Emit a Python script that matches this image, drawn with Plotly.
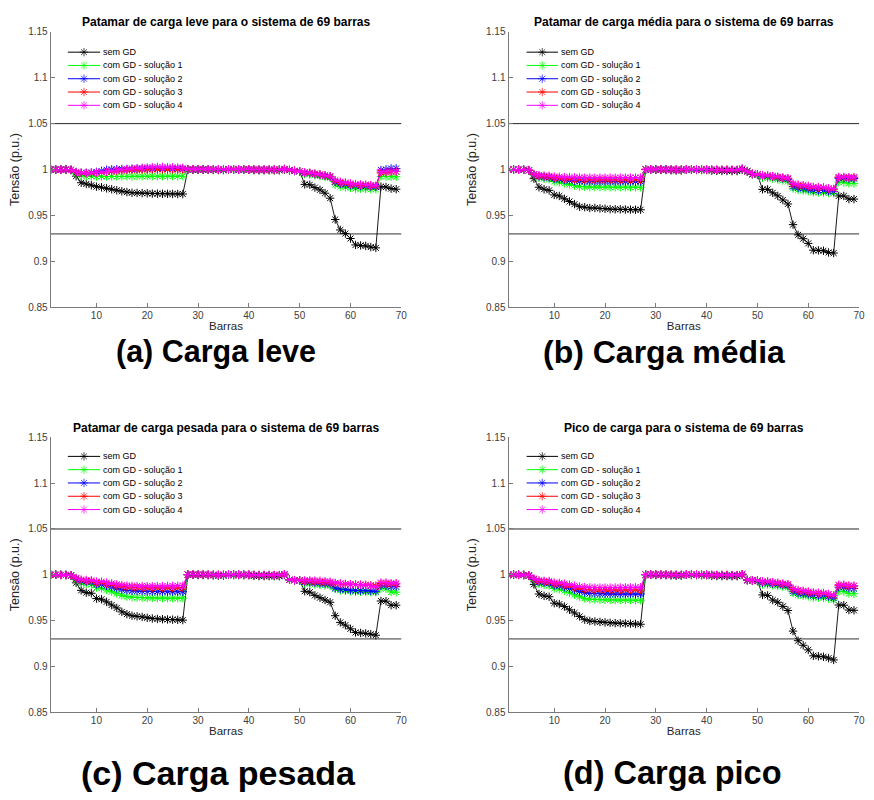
import plotly.graph_objects as go

# ---------------- data ----------------
bus = list(range(1, 70))

series_names = ["sem GD", "com GD - solução 1", "com GD - solução 2",
                "com GD - solução 3", "com GD - solução 4"]
series_colors = ["#000000", "#00ff00", "#0000ff", "#ff0000", "#ff00ff"]

titles = ["Patamar de carga leve para o sistema de 69 barras",
          "Patamar de carga média para o sistema de 69 barras",
          "Patamar de carga pesada para o sistema de 69 barras",
          "Pico de carga para o sistema de 69 barras"]
captions = ["(a) Carga leve", "(b) Carga média", "(c) Carga pesada", "(d) Carga pico"]

limits = [1.05, 0.93]
y_ticks = [0.85, 0.9, 0.95, 1.0, 1.05, 1.1, 1.15]
y_tick_labels = ["0.85", "0.9", "0.95", "1", "1.05", "1.1", "1.15"]
x_ticks = [10, 20, 30, 40, 50, 60, 70]
x_range = [1, 70]
y_range = [0.85, 1.15]

leve_sem = [
    1.0000, 1.0000, 0.9999, 0.9999, 0.9995, 0.9928, 0.9857, 0.9843, 0.9830, 0.9814,
    0.9807, 0.9796, 0.9786, 0.9775, 0.9764, 0.9755, 0.9748, 0.9746, 0.9744, 0.9742,
    0.9739, 0.9738, 0.9737, 0.9736, 0.9735, 0.9734, 0.9734,
    0.9999, 0.9999, 0.9998, 0.9998, 0.9998, 0.9996, 0.9995, 0.9995,
    1.0000, 0.9999, 0.9998, 0.9998, 0.9998, 0.9994, 0.9993, 0.9993, 0.9993, 0.9992, 0.9992,
    0.9999, 0.9993, 0.9985, 0.9980,
    0.9839, 0.9835, 0.9804, 0.9779, 0.9743, 0.9689, 0.9457, 0.9343, 0.9304, 0.9250,
    0.9180, 0.9175, 0.9170, 0.9157, 0.9148, 0.9814, 0.9810, 0.9793, 0.9786]
leve_sol1 = [
    1.0000, 1.0000, 1.0000, 0.9999, 0.9996, 0.9955, 0.9935, 0.9928, 0.9926, 0.9925,
    0.9925, 0.9925, 0.9925, 0.9925, 0.9926, 0.9926, 0.9927, 0.9927, 0.9927, 0.9928,
    0.9928, 0.9928, 0.9928, 0.9928, 0.9928, 0.9928, 0.9928,
    1.0000, 1.0000, 0.9999, 0.9999, 0.9999, 0.9998, 0.9997, 0.9997,
    1.0000, 1.0000, 0.9999, 0.9999, 0.9999, 0.9997, 0.9996, 0.9996, 0.9996, 0.9996, 0.9996,
    1.0003, 0.9995, 0.9985, 0.9980,
    0.9950, 0.9948, 0.9938, 0.9930, 0.9920, 0.9910, 0.9835, 0.9815, 0.9808, 0.9800,
    0.9792, 0.9791, 0.9790, 0.9787, 0.9785, 0.9925, 0.9925, 0.9922, 0.9922]
leve_sol2 = [
    1.0000, 1.0000, 1.0000, 1.0000, 0.9997, 0.9972, 0.9965, 0.9965, 0.9968, 0.9975,
    0.9985, 0.9998, 1.0002, 1.0004, 1.0006, 1.0007, 1.0008, 1.0009, 1.0010, 1.0010,
    1.0010, 1.0010, 1.0010, 1.0010, 1.0009, 1.0009, 1.0009,
    1.0002, 1.0002, 1.0001, 1.0001, 1.0001, 1.0000, 0.9999, 0.9999,
    1.0002, 1.0002, 1.0001, 1.0001, 1.0001, 0.9999, 0.9998, 0.9998, 0.9998, 0.9998, 0.9998,
    1.0005, 0.9995, 0.9985, 0.9982,
    0.9962, 0.9960, 0.9950, 0.9942, 0.9932, 0.9922, 0.9865, 0.9845, 0.9838, 0.9830,
    0.9822, 0.9820, 0.9818, 0.9815, 0.9812, 0.9995, 1.0002, 1.0012, 1.0012]
leve_sol3 = [
    1.0000, 1.0000, 1.0000, 1.0000, 0.9997, 0.9972, 0.9963, 0.9962, 0.9963, 0.9966,
    0.9970, 0.9975, 0.9980, 0.9985, 0.9990, 0.9993, 0.9996, 0.9998, 1.0000, 1.0001,
    1.0002, 1.0002, 1.0002, 1.0002, 1.0002, 1.0001, 1.0001,
    1.0003, 1.0003, 1.0002, 1.0002, 1.0002, 1.0001, 1.0000, 1.0000,
    1.0003, 1.0003, 1.0002, 1.0002, 1.0002, 1.0000, 0.9999, 0.9999, 0.9999, 0.9999, 0.9999,
    1.0006, 0.9996, 0.9986, 0.9982,
    0.9966, 0.9963, 0.9954, 0.9946, 0.9936, 0.9926, 0.9875, 0.9858, 0.9850, 0.9842,
    0.9833, 0.9831, 0.9829, 0.9825, 0.9820, 0.9965, 0.9970, 0.9978, 0.9980]
leve_sol4 = [
    1.0000, 1.0000, 1.0000, 1.0000, 0.9998, 0.9975, 0.9965, 0.9963, 0.9964, 0.9968,
    0.9972, 0.9978, 0.9985, 0.9992, 0.9998, 1.0004, 1.0010, 1.0015, 1.0020, 1.0024,
    1.0027, 1.0029, 1.0029, 1.0027, 1.0025, 1.0022, 1.0020,
    1.0005, 1.0005, 1.0004, 1.0004, 1.0004, 1.0003, 1.0002, 1.0002,
    1.0004, 1.0004, 1.0003, 1.0003, 1.0003, 1.0002, 1.0001, 1.0001, 1.0001, 1.0001, 1.0001,
    1.0008, 0.9997, 0.9987, 0.9982,
    0.9970, 0.9966, 0.9957, 0.9948, 0.9938, 0.9928, 0.9885, 0.9868, 0.9860, 0.9851,
    0.9842, 0.9840, 0.9837, 0.9832, 0.9825, 0.9975, 0.9978, 0.9980, 0.9980]

media_sem = [
    1.0000, 1.0000, 0.9999, 0.9998, 0.9990, 0.9901, 0.9808, 0.9786, 0.9774, 0.9724,
    0.9713, 0.9682, 0.9653, 0.9624, 0.9596, 0.9591, 0.9582, 0.9582, 0.9577, 0.9574,
    0.9569, 0.9568, 0.9568, 0.9566, 0.9564, 0.9563, 0.9563,
    0.9999, 0.9999, 0.9997, 0.9997, 0.9996, 0.9993, 0.9990, 0.9990,
    0.9999, 0.9997, 0.9996, 0.9995, 0.9995, 0.9988, 0.9986, 0.9985, 0.9985, 0.9984, 0.9984,
    0.9998, 0.9985, 0.9947, 0.9942,
    0.9785, 0.9785, 0.9747, 0.9714, 0.9669, 0.9626, 0.9401, 0.9290, 0.9248, 0.9197,
    0.9123, 0.9121, 0.9117, 0.9098, 0.9092, 0.9713, 0.9713, 0.9679, 0.9679]
media_sol1 = [
    1.0000, 1.0000, 0.9999, 0.9998, 0.9992, 0.9940, 0.9912, 0.9902, 0.9895, 0.9870,
    0.9862, 0.9850, 0.9838, 0.9826, 0.9815, 0.9812, 0.9810, 0.9810, 0.9809, 0.9808,
    0.9808, 0.9808, 0.9808, 0.9808, 0.9808, 0.9808, 0.9808,
    1.0001, 1.0001, 1.0000, 1.0000, 0.9999, 0.9998, 0.9997, 0.9997,
    1.0001, 1.0000, 0.9999, 0.9999, 0.9999, 0.9996, 0.9995, 0.9995, 0.9995, 0.9994, 0.9994,
    1.0006, 0.9978, 0.9953, 0.9946,
    0.9912, 0.9910, 0.9900, 0.9892, 0.9882, 0.9872, 0.9795, 0.9780, 0.9772, 0.9765,
    0.9752, 0.9751, 0.9750, 0.9745, 0.9742, 0.9862, 0.9862, 0.9850, 0.9850]
media_sol2 = [
    1.0000, 1.0000, 0.9999, 0.9998, 0.9993, 0.9945, 0.9925, 0.9918, 0.9913, 0.9900,
    0.9895, 0.9888, 0.9882, 0.9877, 0.9873, 0.9872, 0.9871, 0.9871, 0.9870, 0.9870,
    0.9870, 0.9870, 0.9870, 0.9870, 0.9870, 0.9870, 0.9870,
    1.0002, 1.0002, 1.0001, 1.0001, 1.0000, 0.9999, 0.9998, 0.9998,
    1.0002, 1.0001, 1.0000, 1.0000, 1.0000, 0.9997, 0.9996, 0.9996, 0.9996, 0.9995, 0.9995,
    1.0007, 0.9979, 0.9954, 0.9947,
    0.9930, 0.9928, 0.9920, 0.9912, 0.9903, 0.9895, 0.9815, 0.9800, 0.9795, 0.9788,
    0.9775, 0.9774, 0.9772, 0.9765, 0.9760, 0.9905, 0.9905, 0.9902, 0.9902]
media_sol3 = [
    1.0000, 1.0000, 0.9999, 0.9998, 0.9994, 0.9948, 0.9932, 0.9926, 0.9922, 0.9910,
    0.9906, 0.9900, 0.9896, 0.9893, 0.9891, 0.9890, 0.9890, 0.9889, 0.9889, 0.9889,
    0.9889, 0.9889, 0.9889, 0.9889, 0.9889, 0.9889, 0.9889,
    1.0003, 1.0003, 1.0002, 1.0002, 1.0001, 1.0000, 0.9999, 0.9999,
    1.0003, 1.0002, 1.0001, 1.0001, 1.0001, 0.9998, 0.9997, 0.9997, 0.9997, 0.9996, 0.9996,
    1.0008, 0.9980, 0.9955, 0.9948,
    0.9935, 0.9933, 0.9925, 0.9918, 0.9910, 0.9902, 0.9840, 0.9828, 0.9822, 0.9815,
    0.9805, 0.9803, 0.9800, 0.9792, 0.9786, 0.9915, 0.9915, 0.9912, 0.9912]
media_sol4 = [
    1.0000, 1.0000, 0.9999, 0.9998, 0.9995, 0.9952, 0.9940, 0.9935, 0.9932, 0.9925,
    0.9922, 0.9919, 0.9917, 0.9915, 0.9914, 0.9913, 0.9913, 0.9912, 0.9912, 0.9912,
    0.9912, 0.9912, 0.9913, 0.9913, 0.9913, 0.9914, 0.9914,
    1.0004, 1.0004, 1.0003, 1.0003, 1.0002, 1.0001, 1.0000, 1.0000,
    1.0004, 1.0003, 1.0002, 1.0002, 1.0002, 0.9999, 0.9998, 0.9998, 0.9998, 0.9997, 0.9997,
    1.0009, 0.9981, 0.9956, 0.9949,
    0.9940, 0.9938, 0.9930, 0.9923, 0.9915, 0.9907, 0.9848, 0.9836, 0.9830, 0.9823,
    0.9812, 0.9810, 0.9807, 0.9798, 0.9790, 0.9920, 0.9920, 0.9918, 0.9918]

pesada_sem = [
    1.0000, 1.0000, 0.9999, 0.9998, 0.9990, 0.9912, 0.9830, 0.9805, 0.9798, 0.9740,
    0.9733, 0.9704, 0.9670, 0.9638, 0.9595, 0.9570, 0.9553, 0.9546, 0.9540, 0.9530,
    0.9522, 0.9518, 0.9515, 0.9512, 0.9510, 0.9508, 0.9505,
    0.9999, 0.9999, 0.9997, 0.9997, 0.9996, 0.9993, 0.9990, 0.9990,
    0.9999, 0.9997, 0.9996, 0.9995, 0.9995, 0.9988, 0.9986, 0.9985, 0.9985, 0.9984, 0.9984,
    0.9998, 0.9945, 0.9940, 0.9938,
    0.9820, 0.9810, 0.9775, 0.9750, 0.9724, 0.9700, 0.9553, 0.9480, 0.9450, 0.9410,
    0.9370, 0.9365, 0.9360, 0.9352, 0.9340, 0.9714, 0.9712, 0.9668, 0.9668]
pesada_sol1 = [
    1.0000, 1.0000, 0.9999, 0.9998, 0.9993, 0.9945, 0.9910, 0.9900, 0.9893, 0.9860,
    0.9853, 0.9835, 0.9815, 0.9795, 0.9775, 0.9762, 0.9755, 0.9752, 0.9750, 0.9748,
    0.9747, 0.9746, 0.9746, 0.9745, 0.9745, 0.9745, 0.9745,
    1.0001, 1.0001, 1.0000, 1.0000, 0.9999, 0.9998, 0.9997, 0.9997,
    1.0001, 1.0000, 0.9999, 0.9999, 0.9999, 0.9996, 0.9995, 0.9995, 0.9995, 0.9994, 0.9994,
    1.0004, 0.9945, 0.9940, 0.9938,
    0.9905, 0.9902, 0.9895, 0.9890, 0.9885, 0.9880, 0.9845, 0.9830, 0.9825, 0.9820,
    0.9815, 0.9814, 0.9813, 0.9811, 0.9808, 0.9850, 0.9848, 0.9812, 0.9810]
pesada_sol2 = [
    1.0000, 1.0000, 0.9999, 0.9998, 0.9994, 0.9955, 0.9930, 0.9925, 0.9920, 0.9897,
    0.9893, 0.9880, 0.9866, 0.9853, 0.9838, 0.9830, 0.9825, 0.9822, 0.9820, 0.9818,
    0.9817, 0.9816, 0.9816, 0.9815, 0.9815, 0.9815, 0.9815,
    1.0002, 1.0002, 1.0001, 1.0001, 1.0000, 0.9999, 0.9998, 0.9998,
    1.0002, 1.0001, 1.0000, 1.0000, 1.0000, 0.9997, 0.9996, 0.9996, 0.9996, 0.9995, 0.9995,
    1.0005, 0.9945, 0.9940, 0.9938,
    0.9920, 0.9918, 0.9912, 0.9907, 0.9902, 0.9897, 0.9855, 0.9843, 0.9838, 0.9833,
    0.9828, 0.9827, 0.9826, 0.9823, 0.9820, 0.9880, 0.9880, 0.9870, 0.9870]
pesada_sol3 = [
    1.0000, 1.0000, 0.9999, 0.9998, 0.9995, 0.9960, 0.9940, 0.9935, 0.9932, 0.9915,
    0.9912, 0.9902, 0.9892, 0.9882, 0.9872, 0.9866, 0.9862, 0.9860, 0.9858, 0.9857,
    0.9856, 0.9856, 0.9856, 0.9856, 0.9856, 0.9857, 0.9858,
    1.0003, 1.0003, 1.0002, 1.0002, 1.0001, 1.0000, 0.9999, 0.9999,
    1.0003, 1.0002, 1.0001, 1.0001, 1.0001, 0.9998, 0.9997, 0.9997, 0.9997, 0.9996, 0.9996,
    1.0006, 0.9946, 0.9941, 0.9939,
    0.9930, 0.9928, 0.9925, 0.9922, 0.9918, 0.9915, 0.9905, 0.9900, 0.9898, 0.9896,
    0.9893, 0.9892, 0.9890, 0.9885, 0.9880, 0.9905, 0.9905, 0.9900, 0.9900]
pesada_sol4 = [
    1.0000, 1.0000, 0.9999, 0.9998, 0.9996, 0.9965, 0.9948, 0.9943, 0.9940, 0.9927,
    0.9924, 0.9915, 0.9906, 0.9897, 0.9888, 0.9883, 0.9880, 0.9878, 0.9877, 0.9876,
    0.9876, 0.9876, 0.9877, 0.9878, 0.9879, 0.9880, 0.9882,
    1.0004, 1.0004, 1.0003, 1.0003, 1.0002, 1.0001, 1.0000, 1.0000,
    1.0004, 1.0003, 1.0002, 1.0002, 1.0002, 0.9999, 0.9998, 0.9998, 0.9998, 0.9997, 0.9997,
    1.0007, 0.9947, 0.9942, 0.9940,
    0.9940, 0.9940, 0.9938, 0.9935, 0.9930, 0.9925, 0.9912, 0.9905, 0.9902, 0.9898,
    0.9893, 0.9891, 0.9889, 0.9880, 0.9868, 0.9915, 0.9915, 0.9908, 0.9908]

pico_sem = [
    1.0000, 1.0000, 0.9999, 0.9998, 0.9988, 0.9895, 0.9790, 0.9770, 0.9760, 0.9690,
    0.9680, 0.9653, 0.9618, 0.9583, 0.9545, 0.9510, 0.9495, 0.9490, 0.9485, 0.9480,
    0.9475, 0.9472, 0.9470, 0.9468, 0.9466, 0.9463, 0.9460,
    0.9999, 0.9999, 0.9997, 0.9997, 0.9996, 0.9993, 0.9990, 0.9990,
    0.9999, 0.9997, 0.9996, 0.9995, 0.9995, 0.9988, 0.9986, 0.9985, 0.9985, 0.9984, 0.9984,
    0.9998, 0.9940, 0.9935, 0.9930,
    0.9780, 0.9775, 0.9724, 0.9700, 0.9655, 0.9610, 0.9385, 0.9280, 0.9230, 0.9180,
    0.9115, 0.9110, 0.9105, 0.9090, 0.9070, 0.9670, 0.9668, 0.9615, 0.9612]
pico_sol1 = [
    1.0000, 1.0000, 0.9999, 0.9998, 0.9992, 0.9940, 0.9900, 0.9890, 0.9883, 0.9850,
    0.9843, 0.9825, 0.9805, 0.9782, 0.9760, 0.9742, 0.9733, 0.9730, 0.9728, 0.9726,
    0.9725, 0.9724, 0.9724, 0.9723, 0.9723, 0.9722, 0.9722,
    1.0001, 1.0001, 1.0000, 1.0000, 0.9999, 0.9998, 0.9997, 0.9997,
    1.0001, 1.0000, 0.9999, 0.9999, 0.9999, 0.9996, 0.9995, 0.9995, 0.9995, 0.9994, 0.9994,
    1.0004, 0.9942, 0.9937, 0.9935,
    0.9895, 0.9893, 0.9885, 0.9878, 0.9870, 0.9862, 0.9800, 0.9780, 0.9772, 0.9765,
    0.9752, 0.9750, 0.9748, 0.9740, 0.9725, 0.9820, 0.9818, 0.9795, 0.9793]
pico_sol2 = [
    1.0000, 1.0000, 0.9999, 0.9998, 0.9993, 0.9950, 0.9920, 0.9913, 0.9908, 0.9885,
    0.9880, 0.9866, 0.9850, 0.9835, 0.9818, 0.9805, 0.9798, 0.9795, 0.9793, 0.9791,
    0.9790, 0.9790, 0.9790, 0.9790, 0.9790, 0.9790, 0.9790,
    1.0002, 1.0002, 1.0001, 1.0001, 1.0000, 0.9999, 0.9998, 0.9998,
    1.0002, 1.0001, 1.0000, 1.0000, 1.0000, 0.9997, 0.9996, 0.9996, 0.9996, 0.9995, 0.9995,
    1.0005, 0.9943, 0.9938, 0.9936,
    0.9912, 0.9910, 0.9902, 0.9896, 0.9888, 0.9880, 0.9820, 0.9800, 0.9793, 0.9786,
    0.9775, 0.9773, 0.9771, 0.9762, 0.9745, 0.9865, 0.9863, 0.9852, 0.9850]
pico_sol3 = [
    1.0000, 1.0000, 0.9999, 0.9998, 0.9994, 0.9955, 0.9932, 0.9926, 0.9922, 0.9903,
    0.9899, 0.9888, 0.9875, 0.9862, 0.9850, 0.9842, 0.9838, 0.9836, 0.9835, 0.9834,
    0.9834, 0.9834, 0.9834, 0.9834, 0.9834, 0.9834, 0.9834,
    1.0003, 1.0003, 1.0002, 1.0002, 1.0001, 1.0000, 0.9999, 0.9999,
    1.0003, 1.0002, 1.0001, 1.0001, 1.0001, 0.9998, 0.9997, 0.9997, 0.9997, 0.9996, 0.9996,
    1.0006, 0.9944, 0.9939, 0.9937,
    0.9925, 0.9923, 0.9915, 0.9908, 0.9900, 0.9893, 0.9842, 0.9825, 0.9818, 0.9810,
    0.9800, 0.9798, 0.9795, 0.9786, 0.9770, 0.9885, 0.9885, 0.9878, 0.9876]
pico_sol4 = [
    1.0000, 1.0000, 0.9999, 0.9998, 0.9995, 0.9960, 0.9940, 0.9935, 0.9932, 0.9915,
    0.9912, 0.9903, 0.9892, 0.9881, 0.9871, 0.9865, 0.9862, 0.9860, 0.9860, 0.9860,
    0.9860, 0.9861, 0.9862, 0.9862, 0.9863, 0.9864, 0.9865,
    1.0004, 1.0004, 1.0003, 1.0003, 1.0002, 1.0001, 1.0000, 1.0000,
    1.0004, 1.0003, 1.0002, 1.0002, 1.0002, 0.9999, 0.9998, 0.9998, 0.9998, 0.9997, 0.9997,
    1.0007, 0.9945, 0.9940, 0.9938,
    0.9930, 0.9928, 0.9920, 0.9913, 0.9905, 0.9898, 0.9850, 0.9833, 0.9826, 0.9818,
    0.9808, 0.9805, 0.9802, 0.9792, 0.9775, 0.9892, 0.9892, 0.9885, 0.9882]

panel_series = [
    [leve_sem, leve_sol1, leve_sol2, leve_sol3, leve_sol4],
    [media_sem, media_sol1, media_sol2, media_sol3, media_sol4],
    [pesada_sem, pesada_sol1, pesada_sol2, pesada_sol3, pesada_sol4],
    [pico_sem, pico_sol1, pico_sol2, pico_sol3, pico_sol4],
]

# ---------------- layout geometry (page pixels of the 874x800 window) ----------------
OFF = 8                      # default page margin of the html body
W, H = 874 - OFF, 800 - 2 * OFF
FONT = "Liberation Sans, Arial, Helvetica, sans-serif"
AX_X = [(51, 404), (512, 865), (51, 404), (512, 865)]
AX_Y = [(26, 306), (26, 306), (438, 717), (438, 717)]
LEG_X = [(68, 101), (530, 562), (68, 101), (530, 562)]
LEG_Y = [(40, 107.5), (40, 107.5), (450.5, 518), (450.5, 518)]
TITLE_Y = [16, 16, 428, 428]
CAPTION_POS = [(217, 350.5), (669, 351), (220, 779), (677, 779)]
CAPTION_SIZE = [30.5, 32, 34, 32.5]


def px_dom_x(a, b):
    return [(a - OFF) / W, (b - OFF) / W]


def px_dom_y(top, bottom):
    return [1 - (bottom - OFF) / H, 1 - (top - OFF) / H]


def px_x(a):
    return (a - OFF) / W


def px_y(t):
    return 1 - (t - OFF) / H


fig = go.Figure()
annotations = []
shapes = []
layout_axes = {}

for p in range(4):
    k = p + 1
    xa = "x" if k == 1 else f"x{k}"
    ya = "y" if k == 1 else f"y{k}"
    lk = k + 4
    lxa, lya = f"x{lk}", f"y{lk}"

    # data traces
    for name, color, vals in zip(series_names, series_colors, panel_series[p]):
        fig.add_trace(go.Scatter(
            x=bus, y=vals, name=name, mode="lines+markers",
            line=dict(color=color, width=0.9),
            marker=dict(symbol="asterisk-open", size=7,
                        line=dict(color=color, width=1)),
            xaxis=xa, yaxis=ya, showlegend=False, hoverinfo="x+y+name"))

    # limit lines (in data coordinates)
    for lim, col, wdt in zip(limits, ["#262626", "#8a8a8a"], [1, 1.6]):
        shapes.append(dict(type="line", xref=f"{xa} domain", yref=ya,
                           x0=0, x1=1, y0=lim, y1=lim, layer="below",
                           line=dict(color=col, width=wdt)))

    axkey = "" if k == 1 else str(k)
    layout_axes[f"xaxis{axkey}"] = dict(
        domain=px_dom_x(*AX_X[p]), anchor=ya, range=x_range,
        tickvals=x_ticks, ticks="inside", ticklen=4, tickcolor="#7a7a7a",
        showline=True, linecolor="#7a7a7a", linewidth=1, showgrid=False,
        zeroline=False, ticklabelstandoff=-1,
        tickfont=dict(family=FONT, size=10, color="#404040"),
        title=dict(text="Barras", font=dict(family=FONT, size=11.5, color="#262626"),
                   standoff=1))
    layout_axes[f"yaxis{axkey}"] = dict(
        domain=px_dom_y(*AX_Y[p]), anchor=xa, range=y_range,
        tickvals=y_ticks, ticktext=y_tick_labels, ticks="inside", ticklen=4,
        tickcolor="#7a7a7a", showline=True, linecolor="#7a7a7a", linewidth=1,
        showgrid=False, zeroline=False,
        tickfont=dict(family=FONT, size=10, color="#404040"),
        title=dict(text="Tensão (p.u.)",
                   font=dict(family=FONT, size=12.5, color="#262626"), standoff=6))

    # legend drawn on its own small axis
    for i, (name, color) in enumerate(zip(series_names, series_colors)):
        fig.add_trace(go.Scatter(
            x=[0, 0.5, 1], y=[i, i, i], mode="lines+markers",
            line=dict(color=color, width=1),
            marker=dict(symbol="asterisk-open", size=[0, 7, 0],
                        line=dict(color=color, width=1)),
            xaxis=lxa, yaxis=lya, showlegend=False, hoverinfo="skip"))
        annotations.append(dict(
            x=1, y=i, xref=lxa, yref=lya, text=name, showarrow=False,
            xanchor="left", yanchor="middle", xshift=1,
            font=dict(family=FONT, size=9, color="#000000")))
    layout_axes[f"xaxis{lk}"] = dict(domain=px_dom_x(*LEG_X[p]), anchor=lya,
                                     range=[0, 1], visible=False, fixedrange=True)
    layout_axes[f"yaxis{lk}"] = dict(domain=px_dom_y(*LEG_Y[p]), anchor=lxa,
                                     range=[4.5, -0.5], visible=False, fixedrange=True)

    # subplot title
    cx = (AX_X[p][0] + AX_X[p][1]) / 2
    annotations.append(dict(
        x=px_x(cx), y=px_y(TITLE_Y[p]), xref="paper", yref="paper",
        text=f"<b>{titles[p]}</b>", showarrow=False, xanchor="center",
        yanchor="middle", font=dict(family=FONT, size=12, color="#000000")))

    # caption below
    capx, capy = CAPTION_POS[p]
    annotations.append(dict(
        x=px_x(capx), y=px_y(capy), xref="paper", yref="paper",
        text=f"<b>{captions[p]}</b>", showarrow=False, xanchor="center",
        yanchor="middle",
        font=dict(family=FONT, size=CAPTION_SIZE[p], color="#000000")))

fig.update_layout(
    width=W, height=H, margin=dict(l=0, r=0, t=0, b=0),
    paper_bgcolor="white", plot_bgcolor="white",
    showlegend=False, annotations=annotations, shapes=shapes,
    font=dict(family=FONT), **layout_axes)

fig.write_html("out.html")
